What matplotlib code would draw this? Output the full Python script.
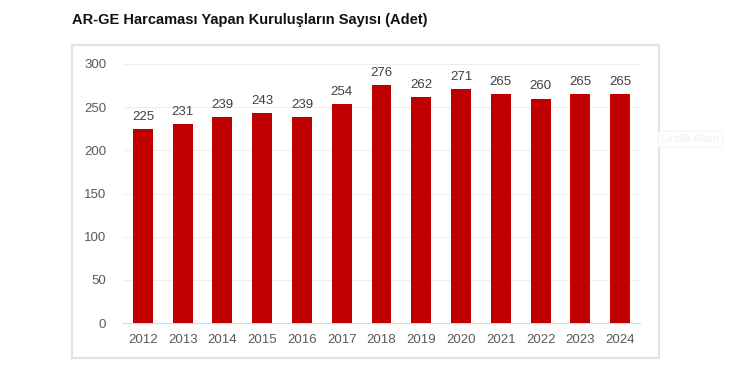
import matplotlib

matplotlib.use("Agg")
import matplotlib.pyplot as plt
from matplotlib.patches import Rectangle

years = ["2012", "2013", "2014", "2015", "2016", "2017", "2018",
         "2019", "2020", "2021", "2022", "2023", "2024"]
counts = [225, 231, 239, 243, 239, 254, 276, 262, 271, 265, 260, 265, 265]
y_ticks = [0, 50, 100, 150, 200, 250, 300]

BAR_COLOR = "#C00000"
TEXT_GREY = "#595959"

plt.rcParams["font.family"] = ["Liberation Sans", "DejaVu Sans"]

W, H = 740, 372
fig = plt.figure(figsize=(W / 100, H / 100), dpi=100)

# outer chart frame
fig.patches.append(Rectangle((72 / W, 1 - 358 / H), (659 - 72) / W, (358 - 45) / H,
                             transform=fig.transFigure, fill=False,
                             edgecolor="#E3E3E3", lw=1.5))

fig.text(72 / W, 1 - 20 / H, "AR-GE Harcaması Yapan Kuruluşların Sayısı (Adet)",
         fontsize=10.5, fontweight="bold", color="#111111", va="center", ha="left")

# faint "Grafik Alanı" hover label
fig.text(690 / W, 1 - 139 / H, "Grafik Alanı", fontsize=8, color="#F0F0F0",
         ha="center", va="center",
         bbox=dict(boxstyle="square,pad=0.3", fc="white", ec="#F5F5F5", lw=0.8))

ax = fig.add_axes([123 / W, 1 - 323 / H, (640 - 123) / W, (323 - 64) / H])
x = list(range(len(years)))
ax.bar(x, counts, width=0.5, color=BAR_COLOR, zorder=3)
for xi, v in zip(x, counts):
    ax.text(xi, v + 7, str(v), ha="center", va="bottom", fontsize=9.5, color="#404040")

ax.set_xlim(-0.5, len(years) - 0.5)
ax.set_ylim(0, 300)
ax.set_yticks(y_ticks)
ax.set_xticks(x)
ax.set_xticklabels(years)
ax.grid(axis="y", color="#EFEFEF", lw=0.8, zorder=0)
for side in ["top", "right", "left"]:
    ax.spines[side].set_visible(False)
ax.spines["bottom"].set_color("#D9D9D9")
ax.tick_params(axis="both", length=0, labelsize=9.5, labelcolor=TEXT_GREY)
ax.tick_params(axis="y", pad=12)
ax.tick_params(axis="x", pad=8)

fig.savefig("out.png", dpi=100)
